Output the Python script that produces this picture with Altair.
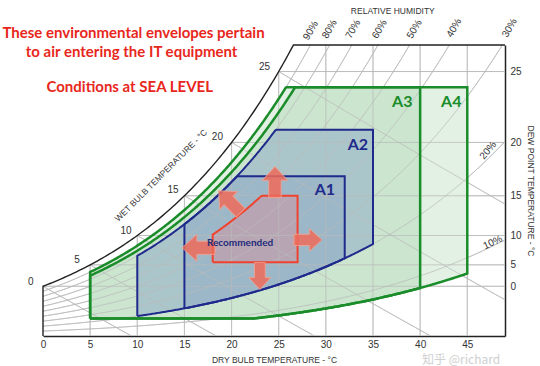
import altair as alt
import numpy as np
import pandas as pd

# ---------------- data ----------------
# saturation vapour pressure (kPa) from steam tables, -12..50 degC
SAT_T = list(range(-12, 51))
SAT_KPA = [0.2172, 0.2376, 0.2599, 0.2839, 0.3100, 0.3382, 0.3687, 0.4017, 0.4374, 0.4760, 0.5177, 0.5627,
           0.6112, 0.6571, 0.7060, 0.7580, 0.8135, 0.8725, 0.9350, 1.0020, 1.0730, 1.1481,
           1.2282, 1.3129, 1.4028, 1.4981, 1.5989, 1.7057, 1.8188, 1.9383, 2.0647, 2.1982,
           2.3392, 2.4881, 2.6452, 2.8109, 2.9856, 3.1697, 3.3637, 3.5679, 3.7828, 4.0089,
           4.2467, 4.4966, 4.7592, 5.0351, 5.3247, 5.6286, 5.9475, 6.2818, 6.6324, 6.9997,
           7.3844, 7.7873, 8.2090, 8.6503, 9.1118, 9.5944, 10.099, 10.627, 11.177, 11.752, 12.352]
P_ATM = 101.325

DRY_TICKS = [0, 5, 10, 15, 20, 25, 30, 35, 40, 45]
DEW_TICKS = [0, 5, 10, 15, 20, 25]
RH_LINES = [0.1, 0.2, 0.3, 0.4, 0.5, 0.6, 0.7, 0.8, 0.9]
WB_LINES = [0, 5, 10, 15, 20, 25]
T_MAX = 49
W_TOP = 22.1

ENV_NAME = ["A4", "A3", "A2", "A1", "Recommended"]
ENV_TMIN = [5, 5, 10, 15, 18]
ENV_TMAX = [45, 40, 35, 32, 27]
ENV_DPMIN = [-12, -12, -12, -12, 5.5]
ENV_DPMAX = [24, 24, 21, 17, 15]
ENV_RHMIN = [0.08, 0.08, 0.20, 0.20, 0.0]
ENV_RHMAX = [0.90, 0.85, 0.80, 0.80, 0.60]
ENV_FILL = ["#e2f1e3", "#cbe5cf", "#aac6ca", "#9bb7c8", "#b8a5b4"]
ENV_LINE = ["#1a8c2a", "#1a8c2a", "#1f2a8c", "#1f2a8c", "#f0422e"]
ENV_WIDTH = [2.5, 2.5, 2.0, 2.0, 2.0]

ARROW_T = [24.6, 19.8, 16.5, 28.1, 23.0]
ARROW_W = [11.7, 10.2, 6.7, 7.3, 4.55]
ARROW_DIR = [0, 315, 270, 90, 180]
ARROW_LEN = [31, 31, 33, 28, 27]

RED_TEXT = ["These environmental envelopes pertain", "to air entering the IT equipment", "Conditions at SEA LEVEL"]
RED_T = [9.6, 9.4, 9.2]
RED_W = [23.0, 21.6, 18.9]

RH_LABEL = ["90%", "80%", "70%", "60%", "50%", "40%", "30%", "20%", "10%"]
RH_LABEL_T = [28.4, 30.4, 32.9, 35.7, 39.4, 43.6, 49.5, 47.2, 47.7]
RH_LABEL_W = [23.2, 23.3, 23.3, 23.3, 23.3, 23.4, 23.4, 14.1, 7.1]
RH_LABEL_ANG = [300, 300, 300, 300, 300, 300, 300, 310, 335]

WB_LABEL = ["0", "5", "10", "15", "20", "25"]
WB_LABEL_T = [-1.3, 3.6, 8.8, 13.8, 18.5, 23.5]
WB_LABEL_W = [4.1, 5.8, 8.0, 11.1, 15.1, 20.4]

ENV_LABEL = ["A1", "A2", "A3", "A4"]
ENV_LABEL_T = [29.9, 33.4, 38.1, 43.3]
ENV_LABEL_W = [11.1, 14.5, 17.8, 17.8]
ENV_LABEL_COL = ["#1f2a8c", "#1f2a8c", "#1a8c2a", "#1a8c2a"]

# ---------------- helpers ----------------
def ps(t):
    return np.exp(np.interp(t, SAT_T, np.log(SAT_KPA)))


def w_of(t, rh):
    pw = rh * ps(t)
    return 622.0 * pw / (P_ATM - pw)


xs = alt.Scale(domain=[0, T_MAX], nice=False, zero=False)
ys = alt.Scale(domain=[0, W_TOP], nice=False, zero=False)
dew_w = [round(float(w_of(d, 1.0)), 3) for d in DEW_TICKS]
expr = "'" + str(DEW_TICKS[-1]) + "'"
for i in range(len(DEW_TICKS) - 2, -1, -1):
    mid = (dew_w[i] + dew_w[i + 1]) / 2
    expr = "datum.value < %.3f ? '%d' : (%s)" % (mid, DEW_TICKS[i], expr)

X = alt.X("t:Q", scale=xs, axis=alt.Axis(values=DRY_TICKS, grid=False, ticks=False, domainColor="#222",
                                         domainWidth=1.5, labelFontSize=10, labelColor="#333",
                                         labelPadding=3, labelFlush=False, labelFont="Liberation Sans",
                                         title="DRY BULB TEMPERATURE - °C", titleFontSize=8.5,
                                         titleFontWeight="normal", titleColor="#333", titlePadding=6,
                                         titleFont="Liberation Sans"))
Y = alt.Y("w:Q", scale=ys, axis=alt.Axis(orient="right", values=dew_w, labelExpr=expr, grid=False, ticks=False,
                                         domainColor="#222", domainWidth=1.5, labelFontSize=10,
                                         labelColor="#333", labelPadding=5, labelFlush=False,
                                         labelFont="Liberation Sans",
                                         title="DEW POINT TEMPERATURE - °C", titleFontSize=8.5,
                                         titleFontWeight="normal", titleColor="#333", titlePadding=4,
                                         titleFont="Liberation Sans"))

# ---------------- grid lines ----------------
rows = []
g = 0
for T in DRY_TICKS[1:]:
    top = min(float(w_of(T, 1.0)), W_TOP)
    rows += [(g, 0, T, 0.0), (g, 1, T, top)]
    g += 1
for d, wd in zip(DEW_TICKS, dew_w):
    rows += [(g, 0, d, wd), (g, 1, T_MAX, wd)]
    g += 1
tt = np.arange(0, T_MAX + 0.01, 0.5)
for rh in RH_LINES:
    for i, (a, b) in enumerate(zip(tt, w_of(tt, rh))):
        rows.append((g, i, float(a), float(b)))
    g += 1
for twb in WB_LINES:
    wsat = float(w_of(twb, 1.0)) / 1000.0
    tl = np.arange(twb, T_MAX + 0.01, 0.5)
    wl = ((2501 - 2.326 * twb) * wsat - 1.006 * (tl - twb)) / (2501 + 1.86 * tl - 4.186 * twb) * 1000
    for i, (a, b) in enumerate(zip(tl, wl)):
        if b > -1:
            rows.append((g, i, float(a), float(b)))
    g += 1
grid_df = pd.DataFrame(rows, columns=["g", "i", "t", "w"])

grid = alt.Chart(grid_df).mark_line(clip=True, color="#bababa", strokeWidth=0.8, opacity=0.9).encode(
    x=X, y=Y, detail="g:N", order="i:Q")

# ---------------- envelopes ----------------
fills = []
outline_rows = []
for k in range(len(ENV_NAME)):
    n = int((ENV_TMAX[k] - ENV_TMIN[k]) * 8) + 1
    te = np.linspace(ENV_TMIN[k], ENV_TMAX[k], n)
    lo = np.maximum(float(w_of(ENV_DPMIN[k], 1.0)), w_of(te, ENV_RHMIN[k]))
    hi = np.minimum(float(w_of(ENV_DPMAX[k], 1.0)), w_of(te, ENV_RHMAX[k]))
    df = pd.DataFrame({"t": te, "w": lo, "w2": hi})
    fills.append(alt.Chart(df).mark_area(color=ENV_FILL[k], opacity=1).encode(
        x=X, y=Y, y2=alt.Y2("w2:Q")))
    pts = list(zip(te, lo)) + list(zip(te[::-1], hi[::-1])) + [(te[0], lo[0])]
    for i, (a, b) in enumerate(pts):
        outline_rows.append((ENV_NAME[k], i, float(a), float(b)))
outline_df = pd.DataFrame(outline_rows, columns=["env", "i", "t", "w"])
outlines = []
for k in range(len(ENV_NAME)):
    outlines.append(alt.Chart(outline_df[outline_df.env == ENV_NAME[k]]).mark_line(
        color=ENV_LINE[k], strokeWidth=ENV_WIDTH[k], strokeJoin="miter").encode(x=X, y=Y, order="i:Q"))

# ---------------- saturation curve and frame ----------------
ts = np.arange(0, 30.01, 0.25)
wsat = w_of(ts, 1.0)
keep = wsat < W_TOP
t_top = float(np.interp(W_TOP, wsat, ts))
sat_pts = [(0.0, 0.0)] + [(float(a), float(b)) for a, b in zip(ts[keep], wsat[keep])] + [(t_top, W_TOP), (T_MAX, W_TOP)]
sat_df = pd.DataFrame({"i": range(len(sat_pts)), "t": [p[0] for p in sat_pts], "w": [p[1] for p in sat_pts]})
sat = alt.Chart(sat_df).mark_line(color="#222", strokeWidth=1.4).encode(x=X, y=Y, order="i:Q")

# ---------------- arrows ----------------
ARROW_PATH = "M-0.4,1L0.4,1L0.4,-0.1L0.82,-0.1L0,-1L-0.82,-0.1L-0.4,-0.1Z"
arrow_df = pd.DataFrame({"t": ARROW_T, "w": ARROW_W, "ang": ARROW_DIR, "sz": [l * l for l in ARROW_LEN]})
arrows = alt.Chart(arrow_df).mark_point(shape=ARROW_PATH, filled=True, color="#ef6b5a", opacity=0.85,
                                        stroke="#f6a08f", strokeWidth=1).encode(
    x=X, y=Y, size=alt.Size("sz:Q", scale=None, legend=None), angle=alt.Angle("ang:Q", scale=None))

# ---------------- texts ----------------
red_df = pd.DataFrame({"t": RED_T, "w": RED_W, "label": RED_TEXT})
red = alt.Chart(red_df).mark_text(font="Lato", fontWeight="bold", fontSize=15, color="#e8271c",
                                  align="center", baseline="middle").encode(x=X, y=Y, text="label:N")

rh_df = pd.DataFrame({"t": RH_LABEL_T, "w": RH_LABEL_W, "label": RH_LABEL, "ang": RH_LABEL_ANG})
rh_txt = alt.Chart(rh_df).mark_text(font="Liberation Sans", fontSize=10, color="#333", align="center",
                                    baseline="middle").encode(x=X, y=Y, text="label:N",
                                                              angle=alt.Angle("ang:Q", scale=None))

wb_df = pd.DataFrame({"t": WB_LABEL_T, "w": WB_LABEL_W, "label": WB_LABEL})
wb_txt = alt.Chart(wb_df).mark_text(font="Liberation Sans", fontSize=10, color="#333", align="center",
                                    baseline="middle").encode(x=X, y=Y, text="label:N")

misc_df = pd.DataFrame({"t": [37.1, 12.5], "w": [24.7, 12.2],
                        "label": ["RELATIVE HUMIDITY", "WET BULB TEMPERATURE - °C"], "ang": [0, 315]})
misc_txt = alt.Chart(misc_df).mark_text(font="Liberation Sans", fontSize=8.5, color="#333", align="center",
                                        baseline="middle").encode(x=X, y=Y, text="label:N",
                                                                  angle=alt.Angle("ang:Q", scale=None))

env_df = pd.DataFrame({"t": ENV_LABEL_T, "w": ENV_LABEL_W, "label": ENV_LABEL, "col": ENV_LABEL_COL})
env_txt = alt.Chart(env_df).mark_text(font="Lato", fontWeight="bold", fontSize=16, align="center",
                                      baseline="middle").encode(x=X, y=Y, text="label:N",
                                                                color=alt.Color("col:N", scale=None))

rec_df = pd.DataFrame({"t": [20.9], "w": [7.06], "label": ["Recommended"]})
rec_txt = alt.Chart(rec_df).mark_text(font="Lato", fontWeight="bold", fontSize=10, color="#1c2a7a",
                                      align="center", baseline="middle").encode(x=X, y=Y, text="label:N")

wm_df = pd.DataFrame({"t": [40.2], "w": [-1.85], "label": ["知乎 @richard"]})
wm_txt = alt.Chart(wm_df).mark_text(font="Noto Sans CJK SC", fontSize=12, color="#c8c8c8", opacity=0.85,
                                    align="left", baseline="middle").encode(x=X, y=Y, text="label:N")

chart = alt.layer(grid, *fills, grid, *outlines, sat, arrows, red, rh_txt, wb_txt, misc_txt, env_txt,
                  rec_txt, wm_txt).properties(
    width=462, height=291, autosize=alt.AutoSizeParams(type="none"),
    padding={"left": 43, "top": 45, "right": 35, "bottom": 30}, background="white"
).configure_view(stroke=None)

chart.save("out.html", embed_options={"renderer": "svg", "actions": False})
